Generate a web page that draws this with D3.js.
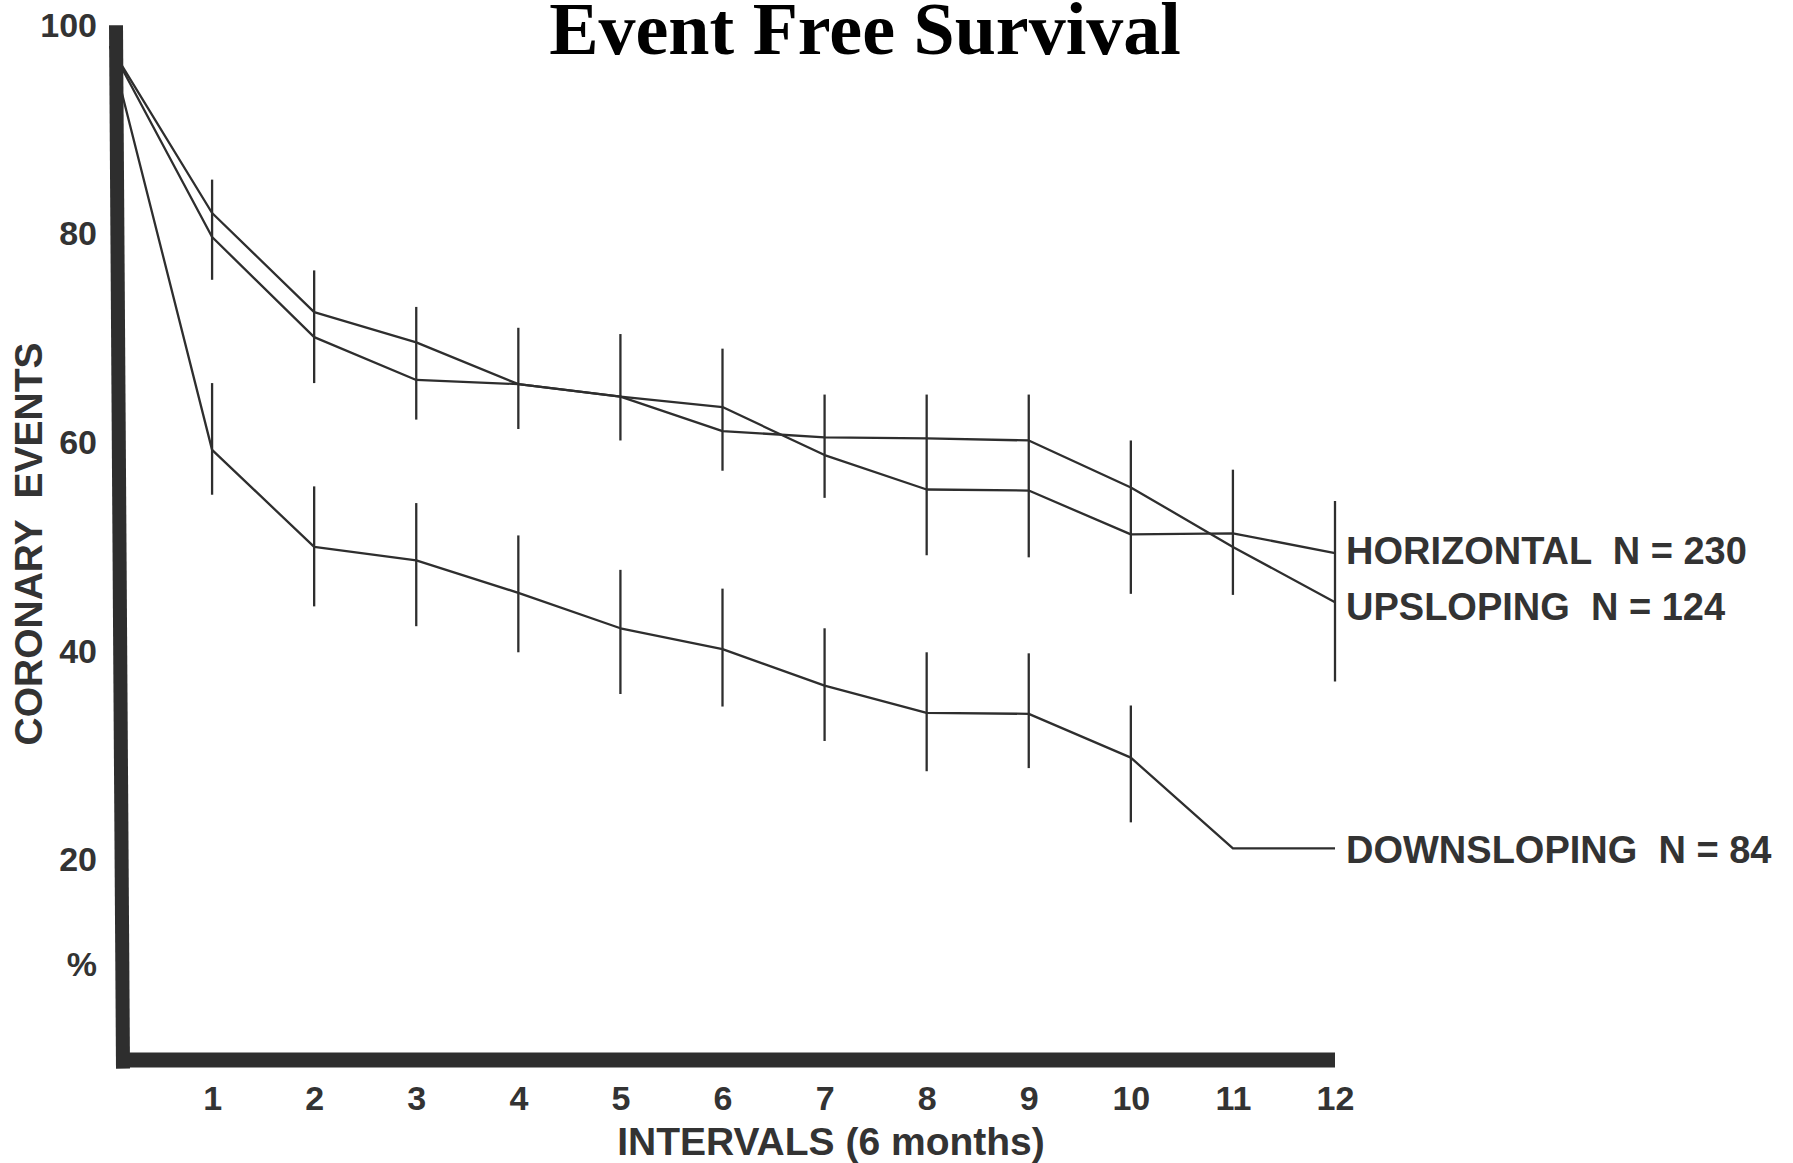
<!DOCTYPE html>
<html>
<head>
<meta charset="utf-8">
<script src="https://cdn.jsdelivr.net/npm/d3@7"></script>
<style>
  html, body { margin: 0; padding: 0; background: #ffffff; }
  svg { display: block; }
  text { font-family: "Liberation Sans", Arial, sans-serif; font-weight: bold; fill: #333; }
</style>
</head>
<body>
<svg id="chart" width="1793" height="1163"></svg>
<script>
// Follow-up intervals (6 months each)
const intervals = [0, 1, 2, 3, 4, 5, 6, 7, 8, 9, 10, 11, 12];

// Percent free of coronary events, by ST-segment pattern
const horizontal  = [98, 82.0, 72.5, 69.6, 65.6, 64.4, 63.4, 58.8, 55.5, 55.4, 51.2, 51.3, 49.4];
const upsloping   = [98, 79.7, 70.1, 66.0, 65.6, 64.4, 61.1, 60.5, 60.4, 60.2, 55.7, 50.0, 44.7];
const downsloping = [98, 59.3, 50.0, 48.7, 45.6, 42.2, 40.2, 36.7, 34.1, 34.0, 29.8, 21.1, 21.1];

// Error bars shared by the horizontal / upsloping pair (intervals 1-12)
const pairBarIntervals = [1, 2, 3, 4, 5, 6, 7, 8, 9, 10, 11, 12];
const pairBarHigh = [85.2, 76.5, 73.0, 71.0, 70.4, 69.0, 64.6, 64.6, 64.6, 60.2, 57.4, 54.4];
const pairBarLow  = [75.6, 65.7, 62.2, 61.3, 60.2, 57.3, 54.7, 49.2, 49.0, 45.5, 45.4, 37.1];

// Error bars for the downsloping group (intervals 1-10)
const downBarIntervals = [1, 2, 3, 4, 5, 6, 7, 8, 9, 10];
const downBarHigh = [65.7, 55.8, 54.2, 51.1, 47.8, 46.0, 42.2, 39.9, 39.8, 34.8];
const downBarLow  = [55.0, 44.3, 42.4, 39.9, 35.9, 34.7, 31.4, 28.5, 28.8, 23.6];

const yTickValues = [20, 40, 60, 80, 100];
const xTickValues = [1, 2, 3, 4, 5, 6, 7, 8, 9, 10, 11, 12];

const seriesLabels = ["HORIZONTAL  N = 230", "UPSLOPING  N = 124", "DOWNSLOPING  N = 84"];
const seriesData = [horizontal, upsloping, downsloping];
const labelNudge = [1, 8, 5];

const svg = d3.select("#chart");
const ink = "#2e2e2e";

const x = d3.scaleLinear().domain([0, 12]).range([110, 1335]);
const y = d3.scaleLinear().domain([0, 100]).range([1068.6, 25.2]);

// Title
svg.append("text")
  .attr("x", 865).attr("y", 54)
  .attr("text-anchor", "middle")
  .style("font-family", "'Liberation Serif', 'Times New Roman', serif")
  .style("font-size", "74px")
  .style("fill", "#000")
  .text("Event Free Survival");

// Error bars
const bars = svg.append("g").attr("stroke", ink).attr("stroke-width", 2.3);
bars.selectAll("line.pair")
  .data(pairBarIntervals)
  .join("line").attr("class", "pair")
  .attr("x1", (d) => x(d)).attr("x2", (d) => x(d))
  .attr("y1", (d, i) => y(pairBarHigh[i])).attr("y2", (d, i) => y(pairBarLow[i]));
bars.selectAll("line.down")
  .data(downBarIntervals)
  .join("line").attr("class", "down")
  .attr("x1", (d) => x(d)).attr("x2", (d) => x(d))
  .attr("y1", (d, i) => y(downBarHigh[i])).attr("y2", (d, i) => y(downBarLow[i]));

// Survival lines
const line = d3.line().x((d, i) => x(intervals[i])).y((d) => y(d));
svg.append("g")
  .selectAll("path")
  .data(seriesData)
  .join("path")
  .attr("d", line)
  .attr("fill", "none")
  .attr("stroke", ink)
  .attr("stroke-width", 2.3)
  .attr("stroke-linejoin", "round");

// Y axis: heavy, slightly leaning bar with value labels, no tick marks
const yAxis = svg.append("g")
  .attr("transform", "translate(116,0)")
  .call(d3.axisLeft(y).tickValues(yTickValues).tickSize(0).tickSizeOuter(0).tickPadding(19));
yAxis.select(".domain")
  .attr("d", `M0,${y(100)}L7,${y(0)}`)
  .attr("stroke", ink).attr("stroke-width", 14).attr("stroke-linecap", "butt");
yAxis.selectAll(".tick text")
  .style("font-family", "'Liberation Sans', Arial, sans-serif")
  .style("font-size", "34px").style("font-weight", "bold").attr("fill", "#333");

// Percent sign under the value labels
svg.append("text")
  .attr("x", 97).attr("y", y(10) + 3)
  .attr("text-anchor", "end")
  .attr("dominant-baseline", "middle")
  .style("font-size", "34px")
  .text("%");

// X axis: heavy bar with interval numbers
const xAxis = svg.append("g")
  .attr("transform", "translate(0,1060)")
  .call(d3.axisBottom(x).tickValues(xTickValues).tickSize(0).tickSizeOuter(0).tickPadding(26));
xAxis.select(".domain").attr("stroke", ink).attr("stroke-width", 15).attr("stroke-linecap", "butt")
  .attr("d", `M${x(0) + 8},0H${x(12)}`);
xAxis.selectAll(".tick text")
  .style("font-family", "'Liberation Sans', Arial, sans-serif")
  .style("font-size", "34px").style("font-weight", "bold").attr("fill", "#333");

// Axis titles
svg.append("text")
  .attr("transform", "translate(42,544) rotate(-90)")
  .attr("text-anchor", "middle")
  .style("font-size", "39px")
  .style("white-space", "pre")
  .text("CORONARY  EVENTS");

svg.append("text")
  .attr("x", 831).attr("y", 1155)
  .attr("text-anchor", "middle")
  .style("font-size", "39px")
  .text("INTERVALS (6 months)");

// End-of-line labels
svg.append("g")
  .selectAll("text")
  .data(seriesData)
  .join("text")
  .attr("x", x(12) + 11)
  .attr("y", (d, i) => y(d[d.length - 1]) + labelNudge[i])
  .attr("dominant-baseline", "middle")
  .style("font-size", "38px")
  .style("white-space", "pre")
  .text((d, i) => seriesLabels[i]);
</script>
</body>
</html>
